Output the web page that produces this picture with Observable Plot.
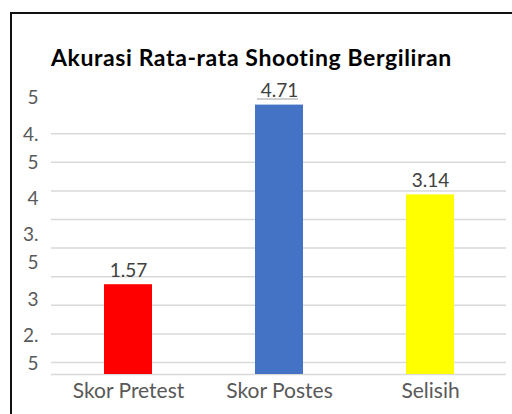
<!DOCTYPE html>
<html>
<head>
<meta charset="utf-8">
<script src="https://cdn.jsdelivr.net/npm/d3@7"></script>
<script src="https://cdn.jsdelivr.net/npm/@observablehq/plot@0.6"></script>
<style>
  html, body { margin: 0; padding: 0; width: 512px; height: 414px; overflow: hidden; background: #fff; }
  #wrap { position: relative; width: 512px; height: 414px; overflow: hidden; font-family: Lato, "Open Sans", sans-serif; }
  #border { position: absolute; left: 10px; top: 12px; width: 700px; height: 700px; border: 2px solid #111; box-sizing: border-box; }
  #title { position: absolute; left: 51px; top: 45.5px; font: bold 23px/1 Lato, sans-serif; letter-spacing: 0.6px; color: #000; white-space: nowrap; }
  .layer { position: absolute; left: 0; top: 0; }
</style>
</head>
<body>
<div id="wrap">
  <div id="border"></div>
  <div id="title">Akurasi Rata-rata Shooting Bergiliran</div>
  <div id="main" class="layer"></div>
  <div id="axis" class="layer"></div>
</div>
<script>
// ---- data ----
const categories = ["Skor Pretest", "Skor Postes", "Selisih"];
const values = [1.57, 4.71, 3.14];
const colors = ["#FF0000", "#4472C4", "#FFFF00"];
const gridTicks = [0.21, 0.71, 1.21, 1.71, 2.21, 2.71, 3.21, 3.71, 4.21];
const axisTicks = [2.5, 3, 3.5, 4, 4.5, 5];

const data = categories.map((c, i) => ({cat: c, value: values[i], color: colors[i]}));
const maxValue = d3.max(values);

const main = Plot.plot({
  width: 512,
  height: 414,
  marginLeft: 51,
  marginRight: 6,
  marginTop: 88,
  marginBottom: 40,
  style: {background: "transparent", fontFamily: "Lato, sans-serif"},
  x: {domain: categories, paddingInner: 0.6835, paddingOuter: 0.342, axis: null, label: null},
  y: {domain: [0, 5], axis: null},
  color: {type: "identity"},
  marks: [
    Plot.gridY(gridTicks, {stroke: "#d9d9d9", strokeOpacity: 1, strokeWidth: 1.5}),
    Plot.ruleY([0], {stroke: "#d9d9d9", strokeWidth: 1.5}),
    Plot.barY(data, {x: "cat", y: "value", fill: "color"}),
    Plot.text(data, {x: "cat", y: "value", text: d => d.value.toFixed(2), dy: -14, fontSize: 19, fill: "#404040"}),
    // light underline artifact beneath the tallest value label
    Plot.tickY(data.filter(d => d.value === maxValue), {x: "cat", y: "value", dy: -6, insetLeft: 2, insetRight: 5, stroke: "#cfcfcf", strokeWidth: 2}),
    Plot.axisX({tickSize: 0, tickPadding: 9, fontSize: 21, fill: "#595959", label: null})
  ]
});
document.getElementById("main").appendChild(main);

const axis = Plot.plot({
  width: 512,
  height: 414,
  marginLeft: 51,
  marginRight: 6,
  marginTop: 95,
  marginBottom: 67.5,
  style: {background: "transparent", fontFamily: "Lato, sans-serif"},
  y: {domain: [2.5, 5]},
  marks: [
    Plot.axisY(axisTicks, {
      tickSize: 0,
      tickPadding: 13,
      fontSize: 19,
      fill: "#595959",
      label: null,
      lineHeight: 28 / 19,
      tickFormat: d => (d % 1 ? String(d).replace(".", ".\n") : String(d))
    })
  ]
});
document.getElementById("axis").appendChild(axis);
</script>
</body>
</html>
